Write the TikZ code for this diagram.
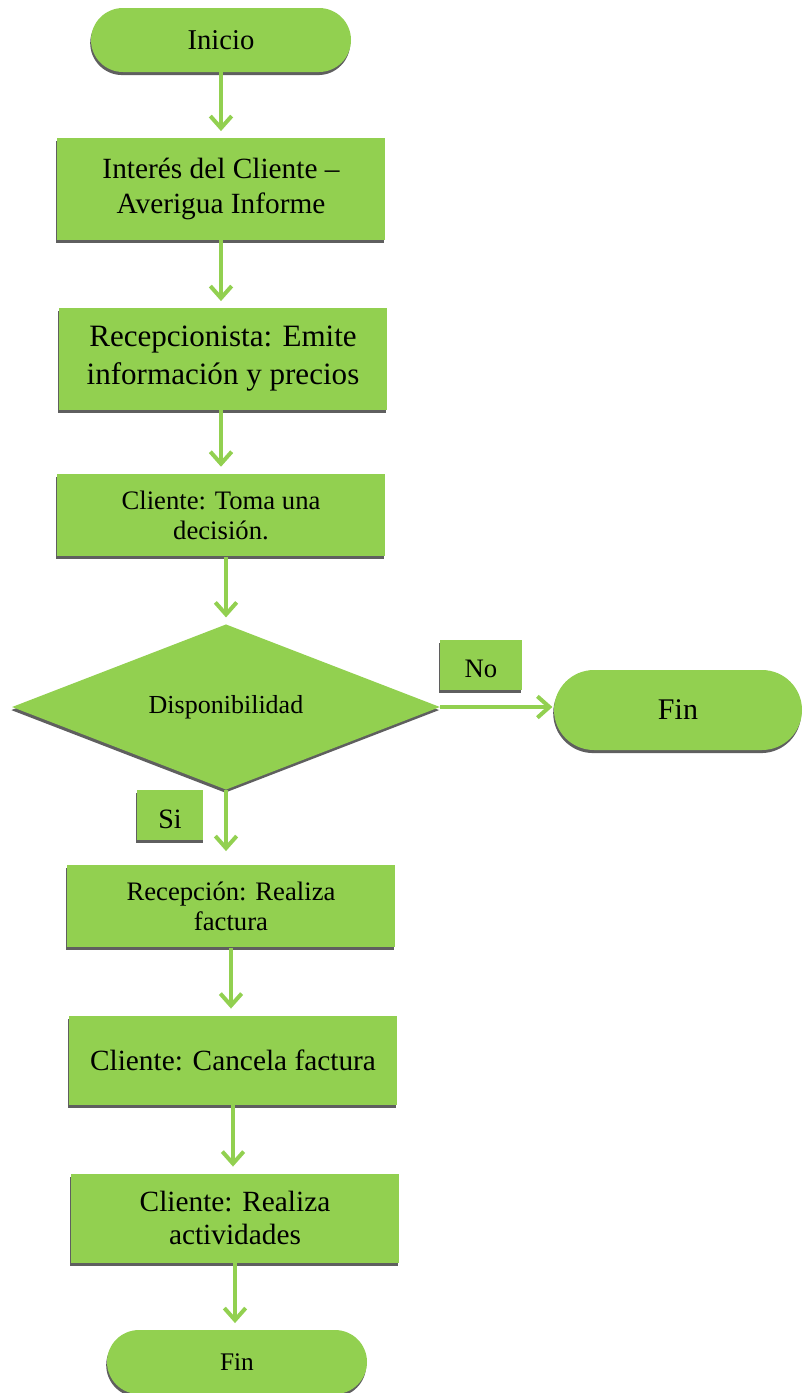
\documentclass[tikz,border=0pt]{standalone}
\usepackage{fontspec}
\setmainfont{Liberation Serif}
\usetikzlibrary{shapes.misc,shapes.geometric,arrows.meta,shadows}
\definecolor{leaf}{HTML}{92D050}
\definecolor{shadowgray}{HTML}{5F5F5F}
\begin{document}
\begin{tikzpicture}[x=0.75pt,y=-0.75pt,
  sh/.style={drop shadow={shadow xshift=-0.6pt, shadow yshift=-2.3pt, fill=shadowgray, opacity=1}},
  procbox/.style={rectangle, fill=leaf, sh, minimum width=246pt, align=center, inner sep=0pt, text=black},
  term/.style={rounded rectangle, fill=leaf, sh, inner sep=0pt, text=black},
  decis/.style={diamond, shape aspect=3, fill=leaf, sh, inner sep=0pt, text=black},
  lbl/.style={rectangle, fill=leaf, sh, inner xsep=0pt, inner ysep=0pt, text=black},
  flow/.style={draw=leaf, line width=3pt, -{Straight Barb[length=9pt,width=16pt]}},
]
\useasboundingbox (0,0) rectangle (804,1393);

\node[term, minimum width=195pt, minimum height=48pt, font=\fontsize{21.5}{26}\selectfont] (start) at (221,40) {Inicio};

\node[procbox, minimum height=76.5pt, font=\fontsize{22}{26}\selectfont] (b1) at (221,189) {Interés del Cliente –\\Averigua Informe};

\node[procbox, minimum height=76.5pt, font=\fontsize{23.3}{28.5}\selectfont] (b2) at (223,359) {Recepcionista: Emite\\información y precios};

\node[procbox, minimum height=62pt, font=\fontsize{20}{22.5}\selectfont] (b3) at (221,515) {Cliente: Toma una\\decisión.};

\node[decis, minimum width=321pt, minimum height=124pt, font=\fontsize{19.5}{23}\selectfont] (d) at (226,707) {Disponibilidad};

\node[lbl, minimum width=61.5pt, minimum height=37.5pt, text height=28pt, text depth=9.5pt, font=\fontsize{20}{23}\selectfont] (no) at (481,665) {No};

\node[term, minimum width=186pt, minimum height=60pt, font=\fontsize{22.5}{26}\selectfont] (fin1) at (678,710) {Fin};

\node[lbl, minimum width=50pt, minimum height=37.5pt, text height=28.5pt, text depth=9pt, font=\fontsize{21}{25}\selectfont] (si) at (170,815) {Si};

\node[procbox, minimum height=62pt, font=\fontsize{20}{22.5}\selectfont] (b4) at (231,906) {Recepción: Realiza\\factura};

\node[procbox, minimum height=66.75pt, font=\fontsize{22}{26}\selectfont] (b5) at (233,1060) {Cliente: Cancela factura};

\node[procbox, minimum height=66.75pt, font=\fontsize{22}{24.5}\selectfont] (b6) at (235,1218) {Cliente: Realiza\\actividades};

\node[term, minimum width=195pt, minimum height=48pt, font=\fontsize{19}{23}\selectfont] (fin2) at (237,1362) {Fin};

\draw[flow, shorten >=5pt] (start.south) -- (start.south |- b1.north);
\draw[flow, shorten >=5pt] (b1.south) -- (b1.south |- b2.north);
\draw[flow, shorten >=5pt] (b2.south -| b3.north) -- (b3.north);
\draw[flow, shorten >=5pt] (b3.south -| d.north) -- (d.north);
\draw[flow, shorten >=10pt] (d.south) -- (d.south |- b4.north);
\draw[flow, shorten >=1pt] (d.east) -- (d.east -| fin1.west);
\draw[flow, shorten >=5pt] (b4.south) -- (b4.south |- b5.north);
\draw[flow, shorten >=5pt] (b5.south) -- (b5.south |- b6.north);
\draw[flow, shorten >=5pt] (b6.south) -- (b6.south |- fin2.north);
\end{tikzpicture}
\end{document}
